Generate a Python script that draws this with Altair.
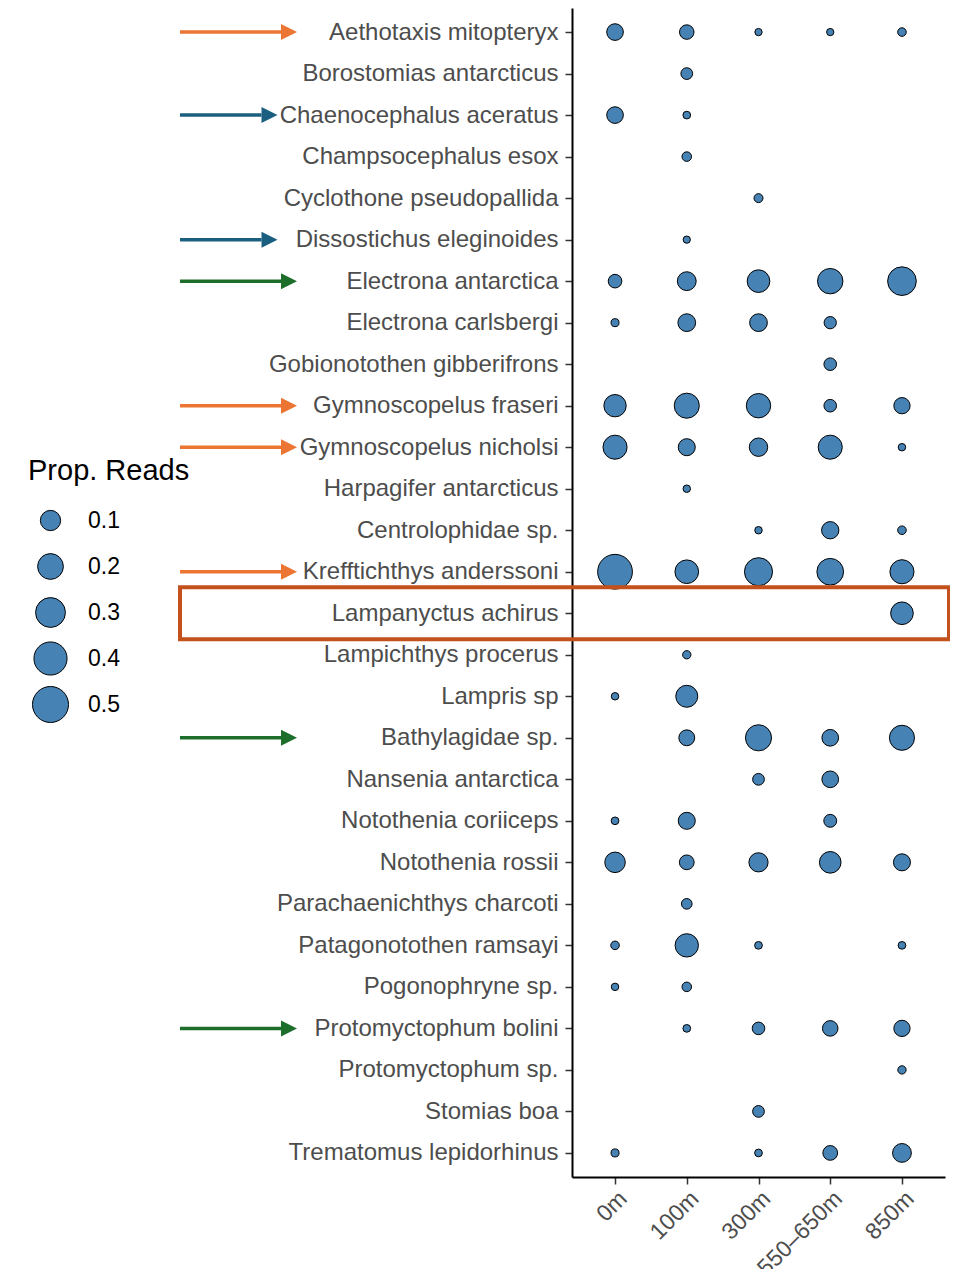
import altair as alt
import pandas as pd

species = [
    "Aethotaxis mitopteryx", "Borostomias antarcticus", "Chaenocephalus aceratus",
    "Champsocephalus esox", "Cyclothone pseudopallida", "Dissostichus eleginoides",
    "Electrona antarctica", "Electrona carlsbergi", "Gobionotothen gibberifrons",
    "Gymnoscopelus fraseri", "Gymnoscopelus nicholsi", "Harpagifer antarcticus",
    "Centrolophidae sp.", "Krefftichthys anderssoni", "Lampanyctus achirus",
    "Lampichthys procerus", "Lampris sp", "Bathylagidae sp.", "Nansenia antarctica",
    "Notothenia coriiceps", "Notothenia rossii", "Parachaenichthys charcoti",
    "Patagonotothen ramsayi", "Pogonophryne sp.", "Protomyctophum bolini",
    "Protomyctophum sp.", "Stomias boa", "Trematomus lepidorhinus",
]
depths = ["0m", "100m", "300m", "550\u2013650m", "850m"]

N = None
reads_0m = [0.055, N, 0.055, N, N, N, 0.028, 0.0015, N, 0.133, 0.165, N, N, 0.455,
            N, N, 0.0005, N, N, 0.0009, 0.104, N, 0.0029, 0.0005, N, N, N, 0.0015]
reads_100m = [0.035, 0.016, 0.0009, 0.006, N, 0.0002, 0.080, 0.067, N, 0.185, 0.059,
              0.0005, N, 0.157, N, 0.0022, 0.127, 0.047, N, 0.059, 0.037, 0.0105,
              0.151, 0.006, 0.0009, N, N, N]
reads_300m = [0.0002, N, N, N, 0.004, N, 0.138, 0.067, N, 0.171, 0.075, N, 0.0005,
              0.254, N, N, N, 0.207, 0.016, N, 0.085, N, 0.0009, N, 0.021, N, 0.016,
              0.0009]
reads_550m = [0.0002, N, N, N, N, N, 0.192, 0.019, 0.021, 0.021, 0.165, N, 0.062,
              0.220, N, N, N, 0.055, 0.055, 0.023, 0.121, N, N, N, 0.044, N, N, 0.037]
reads_850m = [0.0029, N, N, N, N, N, 0.269, N, N, 0.051, 0.0005, N, 0.0029, 0.165,
              0.138, N, N, 0.185, N, N, 0.059, N, 0.0009, N, 0.051, 0.0022, N, 0.080]

arrow_species = ["Aethotaxis mitopteryx", "Chaenocephalus aceratus", "Dissostichus eleginoides",
                 "Electrona antarctica", "Gymnoscopelus fraseri", "Gymnoscopelus nicholsi",
                 "Krefftichthys anderssoni", "Bathylagidae sp.", "Protomyctophum bolini"]
arrow_colors = ["#EC7533", "#1A5F80", "#1A5F80", "#1E6E2B", "#EC7533", "#EC7533",
                "#EC7533", "#1E6E2B", "#1E6E2B"]
arrow_long = [True, False, False, True, True, True, True, True, True]

highlight_species = ["Lampanyctus achirus"]
legend_values = [0.1, 0.2, 0.3, 0.4, 0.5]

rows = []
for d, col in zip(depths, [reads_0m, reads_100m, reads_300m, reads_550m, reads_850m]):
    for s, v in zip(species, col):
        if v is not None:
            rows.append({"species": s, "depth": d, "reads": v})
df = pd.DataFrame(rows)
arrows = pd.DataFrame({"species": arrow_species, "color": arrow_colors, "long": arrow_long})
hl = pd.DataFrame({"species": highlight_species})

FONT = "Liberation Sans"
yenc = alt.Y("species:N", sort=species,
             scale=alt.Scale(type="point", padding=0.58),
             axis=alt.Axis(title=None, labelFontSize=24, labelColor="#4D4D4D",
                           labelFont=FONT, labelLimit=0, tickSize=7, tickWidth=1.5,
                           tickColor="#333333", labelPadding=7, domainColor="black",
                           domainWidth=2, grid=False))

points = alt.Chart(df).mark_point(filled=False, fill="#4682B4", fillOpacity=1,
                                   stroke="black", strokeWidth=1, opacity=1).encode(
    x=alt.X("depth:N", sort=depths, scale=alt.Scale(type="point", padding=0.6),
            axis=alt.Axis(title=None, labelAngle=-45, labelFontSize=23, labelColor="#4D4D4D",
                          labelFont=FONT, labelLimit=0, tickSize=7, tickWidth=1.5,
                          tickColor="#333333", labelPadding=3, domainColor="black",
                          domainWidth=2, grid=False)),
    y=yenc,
    size=alt.Size("reads:Q",
                  scale=alt.Scale(type="pow", exponent=0.77, domain=[0, 0.5], range=[50, 1296]),
                  legend=alt.Legend(title="Prop. Reads", values=legend_values, orient="none",
                                    legendX=-544, legendY=449, padding=0,
                                    titleFontSize=29, titleFont=FONT, titleFontWeight="normal",
                                    titleColor="black", titlePadding=16,
                                    labelFontSize=23, labelFont=FONT, labelColor="black",
                                    labelOffset=19, symbolOffset=4, rowPadding=9,
                                    clipHeight=37, symbolType="circle",
                                    symbolStrokeWidth=1, symbolOpacity=1)),
)

ARROW_HEAD = "M-1,-1L1,0L-1,1Z"


def arrow_layers(is_long, end_x):
    base = alt.Chart(arrows).transform_filter(alt.datum.long == is_long)
    line = base.mark_rule(strokeWidth=3.5).encode(
        x=alt.value(-392), x2=alt.value(end_x - 8), y=yenc,
        color=alt.Color("color:N", scale=None))
    head = base.mark_point(shape=ARROW_HEAD, filled=True, size=256, opacity=1).encode(
        x=alt.value(end_x), y=yenc,
        color=alt.Color("color:N", scale=None))
    return [line, head]


layers = arrow_layers(True, -283) + arrow_layers(False, -302.5)

rect = alt.Chart(hl).mark_point(
    shape="M-1,-0.0676H1V0.0676H-1Z", filled=False, size=769 * 769,
    stroke="#C4501B", strokeWidth=4, opacity=1).encode(
    x=alt.value(-7.5), y=yenc)

chart = alt.layer(points, rect, *layers).properties(
    width=373, height=1169,
    autosize=alt.AutoSizeParams(type="none"),
    padding={"left": 564, "top": 0, "right": 5, "bottom": 92},
).configure_view(stroke=None)

chart.save("out.html", embed_options={"renderer": "svg", "actions": False})
